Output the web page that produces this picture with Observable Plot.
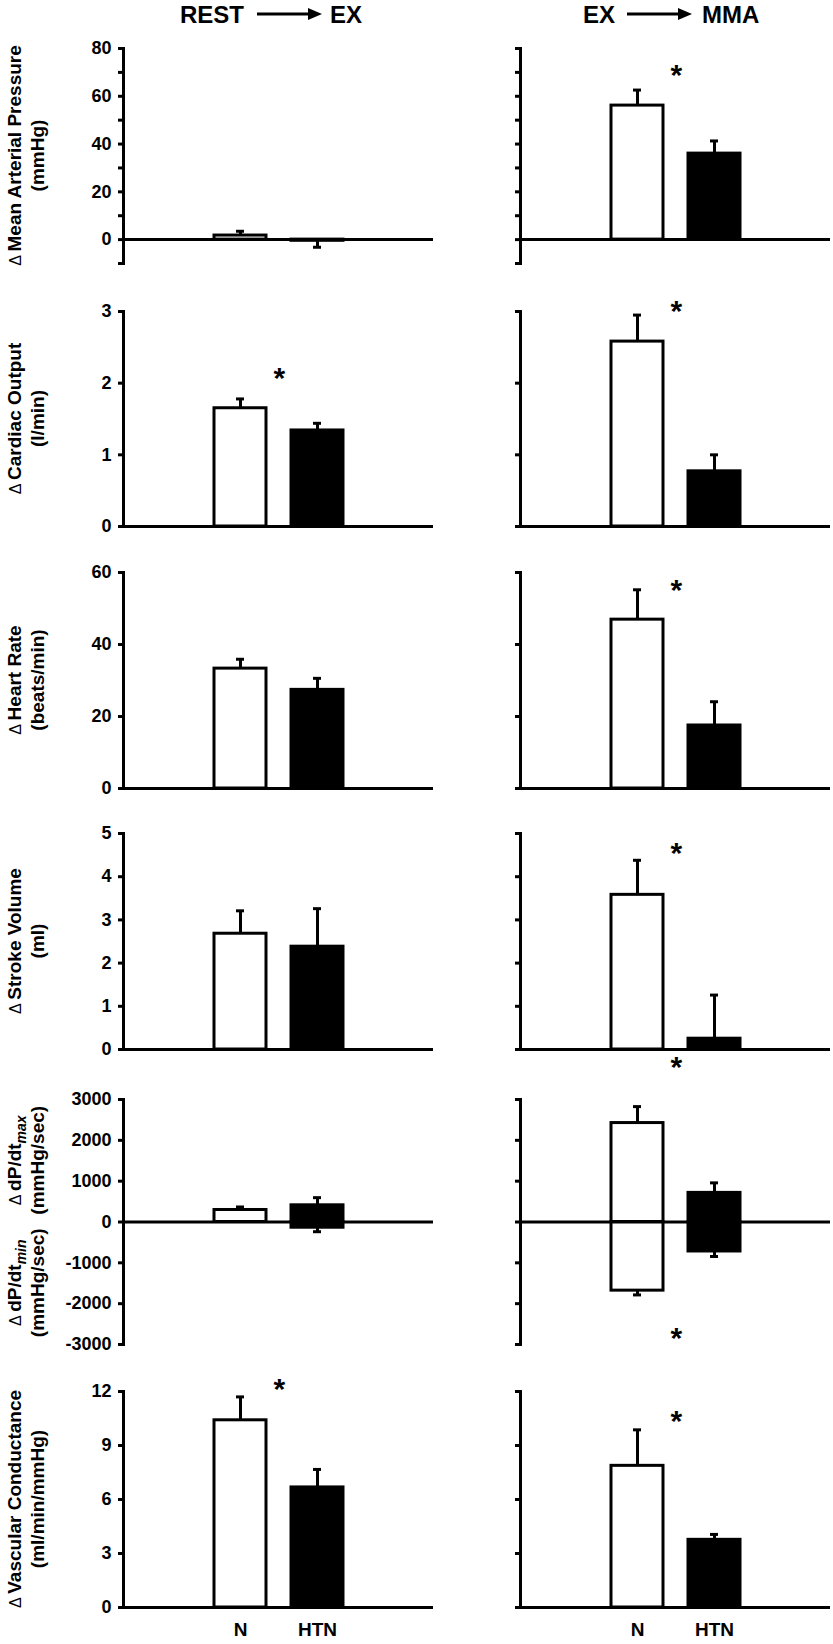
<!DOCTYPE html>
<html><head><meta charset="utf-8">
<script src="https://cdn.jsdelivr.net/npm/d3@7"></script>
<script src="https://cdn.jsdelivr.net/npm/@observablehq/plot@0.6"></script>
<style>
body{margin:0;background:#fff;}
#root{position:relative;width:833px;height:1644px;font-family:"Liberation Sans",Arial,sans-serif;font-weight:bold;}
#root svg{position:absolute;overflow:visible;}
</style></head><body><div id="root"></div>
<script>
// ---------- data ----------
const groups = ["N", "HTN"];
const measures = ["MAP", "CO", "HR", "SV", "dPdt", "VC"];
const columnTitles = [["REST", "EX"], ["EX", "MMA"]];
const yLabels1 = ["Mean Arterial Pressure", "Cardiac Output", "Heart Rate", "Stroke Volume", null, "Vascular Conductance"];
const yLabels2 = ["(mmHg)", "(l/min)", "(beats/min)", "(ml)", null, "(ml/min/mmHg)"];

// REST -> EX (change, mean and SEM)
const restN      = [1.7, 1.65, 33.3, 2.68, 294, 10.4];
const restNSem   = [1.8, 0.13, 2.6, 0.53, 74, 1.3];
const restHTN    = [-0.5, 1.34, 27.4, 2.38, 409, 6.67];
const restHTNSem = [2.7, 0.10, 3.2, 0.88, 187, 1.0];
// EX -> MMA
const mmaN      = [56.1, 2.58, 46.9, 3.58, 2423, 7.87];
const mmaNSem   = [6.5, 0.37, 8.3, 0.80, 403, 2.0];
const mmaHTN    = [36.0, 0.77, 17.5, 0.25, 713, 3.76];
const mmaHTNSem = [5.3, 0.23, 6.6, 1.01, 245, 0.30];
// dP/dt min (REST->EX, EX->MMA)
const dPdtMinN      = [0, -1681];
const dPdtMinNSem   = [0, 105];
const dPdtMinHTN    = [-140, -722];
const dPdtMinHTNSem = [98, 123];
// significance stars (value-axis position), null = none
const starsRest = [null, 2.16, null, null, null, 12.48];
const starsMma  = [71.5, 3.10, 57.1, 4.70, 3950, 10.74];
const starsMmaMin = [null, null, null, null, -2690, null];

// axes
const yDomains = [[-10, 80], [0, 3], [0, 60], [0, 5], [-3000, 3000], [0, 12]];
const yTicks = [
  [-10, 0, 10, 20, 30, 40, 50, 60, 70, 80],
  [0, 1, 2, 3],
  [0, 20, 40, 60],
  [0, 1, 2, 3, 4, 5],
  [-3000, -2000, -1000, 0, 1000, 2000, 3000],
  [0, 3, 6, 9, 12]
];
const yTickLabels = [
  [0, 20, 40, 60, 80],
  [0, 1, 2, 3],
  [0, 20, 40, 60],
  [0, 1, 2, 3, 4, 5],
  [-3000, -2000, -1000, 0, 1000, 2000, 3000],
  [0, 3, 6, 9, 12]
];

// ---------- layout ----------
const frameTop    = [48, 311, 572, 833, 1099, 1391];
const frameBottom = [263, 526, 788, 1049, 1344, 1607];
const colLeft   = [0, 433];
const colWidth  = [433, 400];
const colMargL  = [123, 87];
const colMargR  = [0, 3];
const padInner = 0.33, padOuter = 1.165;

const root = document.getElementById("root");
const font = '"Liberation Sans", Arial, sans-serif';

// header
const hdr = d3.select(root).append("svg").attr("width", 833).attr("height", 40)
  .style("left", "0px").style("top", "0px");
const hdrPos = [{a: 180, line: [257, 322], b: 330}, {a: 583, line: [627, 692], b: 702}];
columnTitles.forEach((t, i) => {
  const p = hdrPos[i];
  const g = hdr.append("g").attr("font-family", font).attr("font-weight", "bold").attr("font-size", 24);
  g.append("text").attr("x", p.a).attr("y", 22.5).text(t[0]);
  g.append("text").attr("x", p.b).attr("y", 22.5).text(t[1]);
  g.append("line").attr("x1", p.line[0]).attr("x2", p.line[1] - 12).attr("y1", 14).attr("y2", 14)
    .attr("stroke", "black").attr("stroke-width", 3);
  g.append("path").attr("d", `M${p.line[1] - 14},8 L${p.line[1]},14 L${p.line[1] - 14},20 Z`).attr("fill", "black");
});

function makePanel(row, col) {
  const isRest = col === 0;
  const vN = (isRest ? restN : mmaN)[row], sN = (isRest ? restNSem : mmaNSem)[row];
  const vH = (isRest ? restHTN : mmaHTN)[row], sH = (isRest ? restHTNSem : mmaHTNSem)[row];
  const bars = [{group: "N", value: vN, sem: sN}, {group: "HTN", value: vH, sem: sH}];
  if (measures[row] === "dPdt") {
    bars.push({group: "N", value: dPdtMinN[col], sem: dPdtMinNSem[col]});
    bars.push({group: "HTN", value: dPdtMinHTN[col], sem: dPdtMinHTNSem[col]});
  }
  const errs = bars.filter(d => d.sem > 0).map(d => ({...d, end: d.value + (d.value < 0 ? -d.sem : d.sem)}));
  const stars = [];
  const s1 = (isRest ? starsRest : starsMma)[row];
  if (s1 != null) stars.push({group: "N", y: s1});
  if (!isRest && starsMmaMin[row] != null) stars.push({group: "N", y: starsMmaMin[row]});

  const mt = 50, mb = row === 5 ? 40 : 14;
  const h = frameBottom[row] - frameTop[row];
  const width = colWidth[col];
  const inner = width - colMargL[col] - colMargR[col];
  const step = inner / (groups.length - padInner + 2 * padOuter);
  const labels = yTickLabels[row];

  const plot = Plot.plot({
    width, height: mt + h + mb,
    marginTop: mt, marginBottom: mb, marginLeft: colMargL[col], marginRight: colMargR[col],
    x: {type: "band", domain: groups, paddingInner: padInner, paddingOuter: padOuter, axis: null},
    y: {domain: yDomains[row], axis: null},
    color: {domain: groups, range: ["white", "black"]},
    style: {background: "transparent", overflow: "visible", fontFamily: font, fontSize: "18px", fontWeight: "bold", color: "black"},
    marks: [
      Plot.barY(bars, {x: "group", y1: () => 0, y2: "value", fill: "group", stroke: "black", strokeWidth: 3}),
      Plot.ruleX(errs, {x: "group", y1: "value", y2: "end", stroke: "black", strokeWidth: 3}),
      Plot.tickY(errs, {x: "group", y: "end", stroke: "black", strokeWidth: 3, insetLeft: 22, insetRight: 22}),
      Plot.ruleY([0], {stroke: "black", strokeWidth: 3}),
      Plot.frame({anchor: "left", stroke: "black", strokeWidth: 3}),
      Plot.axisY({ticks: yTicks[row], tickSize: 5, tickPadding: 7, strokeWidth: 3, label: null,
        tickFormat: col === 0 ? (d => labels.includes(d) ? String(d) : "") : (() => ""), fontSize: 18, fontWeight: "bold"}),
      row === 5 ? Plot.axisX({tickSize: 0, tickPadding: 15, label: null, fontSize: 19, fontWeight: "bold"}) : null,
      Plot.text(stars, {x: "group", y: "y", text: () => "*", dx: step / 2, dy: 7, fontSize: 30, fontWeight: "bold"})
    ]
  });
  plot.style.left = colLeft[col] + "px";
  plot.style.top = (frameTop[row] - mt) + "px";
  root.appendChild(plot);

  if (col === 0) {
    const svg = d3.select(plot);
    const y = plot.scale("y");
    const addLabel = (cy, parts, line2) => {
      const t1 = svg.append("text").attr("transform", `translate(21,${cy}) rotate(-90)`)
        .attr("text-anchor", "middle").attr("font-family", font).attr("font-weight", "bold").attr("font-size", 19);
      t1.append("tspan").attr("font-weight", "normal").attr("font-size", 16).text("\u0394 ");
      parts.forEach(p => {
        const ts = t1.append("tspan").text(p.t);
        if (p.sub) ts.attr("font-style", "italic").attr("font-size", 14).attr("dy", 5);
      });
      svg.append("text").attr("transform", `translate(44,${cy}) rotate(-90)`)
        .attr("text-anchor", "middle").attr("font-family", font).attr("font-weight", "bold").attr("font-size", 19)
        .text(line2);
    };
    if (measures[row] === "dPdt") {
      addLabel(y.apply(1500), [{t: "dP/dt"}, {t: "max", sub: true}], "(mmHg/sec)");
      addLabel(y.apply(-1500), [{t: "dP/dt"}, {t: "min", sub: true}], "(mmHg/sec)");
    } else {
      addLabel(mt + h / 2, [{t: yLabels1[row]}], yLabels2[row]);
    }
  }
}

for (let r = 0; r < measures.length; r++) for (let c = 0; c < 2; c++) makePanel(r, c);
</script></body></html>
